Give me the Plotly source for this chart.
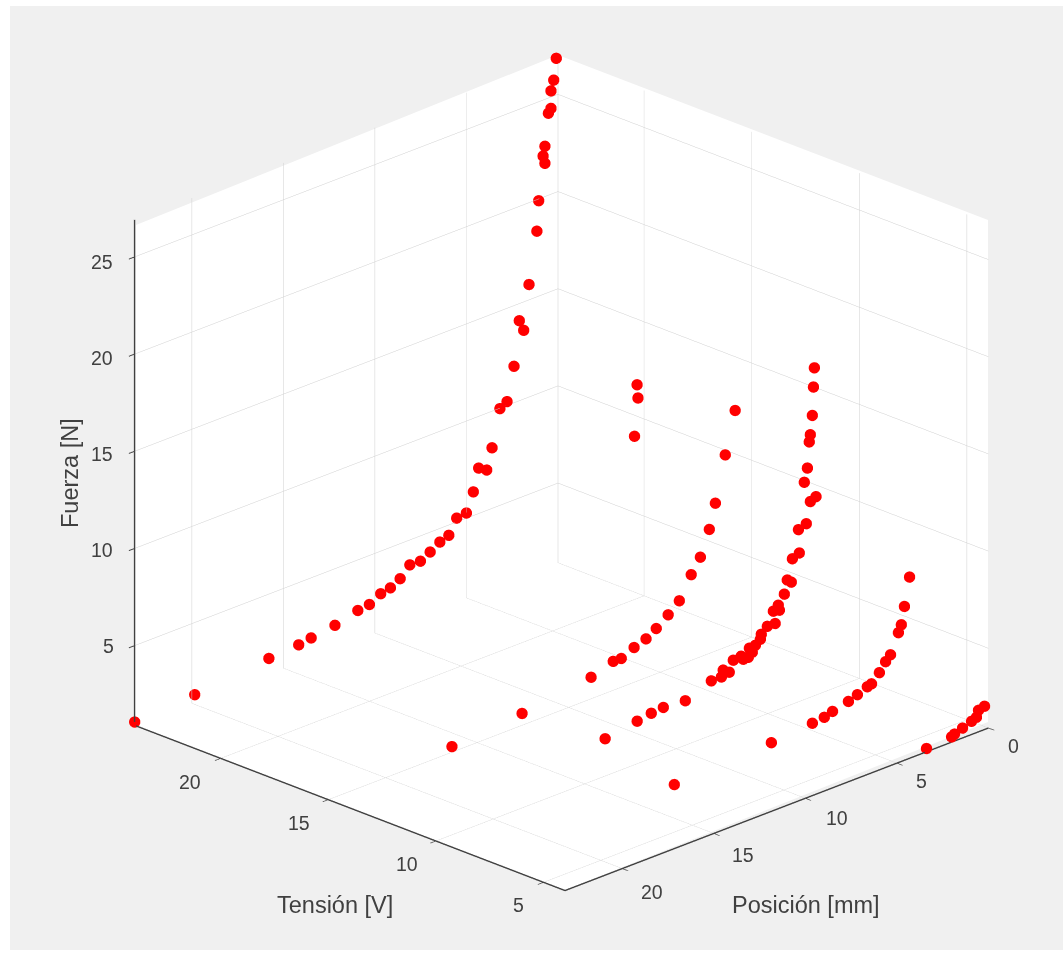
import plotly.graph_objects as go

tension = [24.0] * 38 + [20.0] * 3 + [15.0] * 16 + [12.0] * 39 + [7.5] * 16 + [4.0] * 8
position = [
    23.13, 19.85, 15.8, 14.17, 13.49, 12.19, 10.94, 10.31, 9.69, 9.16, 8.63, 8.1, 7.52, 6.99, 6.46, 5.97, 5.54, 5.01, 4.63,
    4.34, 3.9, 3.61, 3.18, 2.79, 2.41, 1.88, 2.12, 1.59, 1.16, 1.06, 0.72, 0.82, 0.72, 0.53, 0.39, 0.39, 0.24, 0.1,
    0.39, 0.34, 0.53,
    0.91, 1.45, 1.99, 2.32, 2.81, 3.31, 3.96, 4.57, 5.22, 5.78, 6.43, 7.13, 7.57, 8.78, 12.55, 16.38,
    11.54, 9.79, 9.02, 8.36, 7.16, 5.74, 5.19, 5.09, 4.76, 4.54, 4.11, 3.99, 3.72, 3.66, 3.5, 3.33, 3.06, 3.01,
    2.68, 2.25, 2.35, 2.02, 2.08, 1.75, 1.59, 1.37, 1.31, 0.93, 0.98, 0.55, 0.33, 0.02, 0.66, 0.49, 0.39, 0.33, 0.22,
    0.16, 0.11,
    13.05, 7.75, 5.51, 4.86, 4.41, 3.54, 3.05, 2.51, 2.28, 1.85, 1.51, 1.24, 0.81, 0.65, 0.48, 0.2,
    3.39, 2.02, 1.86, 1.42, 0.93, 0.66, 0.55, 0.22,
]
force = [
    1.08, 1.3, 1.7, 1.81, 1.92, 2.1, 2.41, 2.49, 2.82, 2.93, 3.21, 3.73, 3.71, 3.99, 4.31, 4.48, 5.21, 5.28, 6.23,
    7.35, 7.09, 8.13, 9.99, 10.21, 11.89, 13.55, 14.13, 15.8, 18.39, 19.92, 21.72, 22.13, 22.6, 24.23, 24.43, 25.33, 25.83, 26.9,
    11.91, 11.21, 9.31,
    12.9, 10.81, 8.52, 7.29, 6.04, 5.32, 4.21, 3.71, 3.24, 2.91, 2.7, 2.39, 2.4, 2.02, 1.52, 1.2,
    1.13, 1.4, 1.53, 1.59, 1.5, 2.01, 2.01, 2.33, 2.1, 2.64, 2.69, 2.49, 2.49, 2.94, 2.67, 2.97, 3.18, 3.42,
    3.71, 3.7, 4.37, 4.3, 4.58, 5.03, 5.7, 5.51, 6.69, 6.85, 8.07, 8.22, 9.28, 9.42, 10.39, 11.06, 12.37, 12.72, 13.67,
    15.11, 16.08,
    1.23, 1.47, 1.66, 1.73, 1.87, 2.07, 2.24, 2.45, 2.52, 2.94, 3.38, 3.64, 4.62, 4.97, 5.85, 7.26,
    1.08, 1.18, 1.27, 1.42, 1.59, 1.7, 2.02, 2.11,
]
force_ticks = ["25", "20", "15", "10", "5"]
tension_ticks = ["20", "15", "10", "5"]
position_ticks = ["0", "5", "10", "15", "20"]

W, H = 1063, 961
FONT = "Liberation Sans"
INK = "#404040"
axis_style = dict(
    showbackground=False, gridcolor="#cfcfcf", gridwidth=1,
    showline=True, linecolor="#404040", linewidth=3, ticks="outside", ticklen=8, tickwidth=2,
    tickcolor="#404040", zeroline=False, showspikes=False, title=dict(text=""),
    showticklabels=False, dtick=5,
)
box = [(136, 225), (558, 55), (988, 220), (988, 722), (565, 890), (135, 725)]
box_path = "M " + " L ".join(f"{px / W:.5f} {1 - py / H:.5f}" for px, py in box) + " Z"


def label(text, px, py, size=19.5, angle=0):
    return dict(text=text, x=px / W, y=1 - py / H, xref="paper", yref="paper", showarrow=False,
                xanchor="center", yanchor="middle", textangle=angle,
                font=dict(family=FONT, size=size, color=INK))


force_label_xy = [(102, 262), (102, 358), (102, 454), (102, 550), (108, 646)]
tension_label_xy = [(190, 782), (299, 823), (407, 864), (518, 905)]
position_label_xy = [(1013, 746), (921, 781), (837, 818), (743, 855), (652, 892)]

annotations = [label("Tensión [V]", 335, 905, 23.5), label("Posición [mm]", 806, 905, 23.5),
               label("Fuerza [N]", 70, 473, 23.5, -90)]
annotations += [label(t, *xy) for t, xy in zip(force_ticks, force_label_xy)]
annotations += [label(t, *xy) for t, xy in zip(tension_ticks, tension_label_xy)]
annotations += [label(t, *xy) for t, xy in zip(position_ticks, position_label_xy)]

fig = go.Figure(go.Scatter3d(
    x=tension, y=position, z=force, mode="markers",
    marker=dict(size=6.6, color="#ff0000", opacity=1, line=dict(width=0)),
))
fig.update_layout(
    width=W, height=H, margin=dict(l=0, r=0, t=0, b=0),
    paper_bgcolor="white", showlegend=False,
    shapes=[
        dict(type="rect", xref="paper", yref="paper", x0=10 / W, x1=1, y0=1 - 950 / H, y1=1 - 6 / H,
             fillcolor="#f0f0f0", line=dict(width=0), layer="below"),
        dict(type="path", xref="paper", yref="paper", path=box_path,
             fillcolor="white", line=dict(width=0), layer="below"),
    ],
    scene=dict(
        domain=dict(x=[0.056, 1.0], y=[0.015, 0.999]),
        xaxis=dict(range=[4, 24], **axis_style),
        yaxis=dict(range=[0, 23.13], **axis_style),
        zaxis=dict(range=[0.9, 26.9], tick0=0, **axis_style),
        aspectmode="manual",
        aspectratio=dict(x=1.287, y=1.266, z=1.157),
        bgcolor="rgba(0,0,0,0)",
        camera=dict(
            projection=dict(type="orthographic"),
            eye=dict(x=-1.25, y=1.25, z=0.735),
            up=dict(x=0, y=0, z=1),
            center=dict(x=0, y=0, z=0),
        ),
    ),
    annotations=annotations,
)
fig.write_html("out.html", config=dict(displayModeBar=False),
               post_script="document.body.style.margin='0';document.body.style.overflow='hidden';")
